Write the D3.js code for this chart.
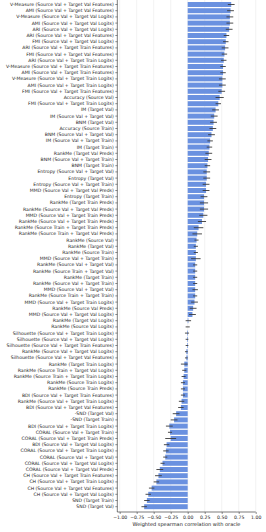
<!DOCTYPE html>
<html>
<head>
<meta charset="utf-8">
<script src="https://cdn.jsdelivr.net/npm/d3@7"></script>
<style>
  body { margin: 0; background: #fff; }
  svg { display: block; font-family: "DejaVu Sans", sans-serif; }
</style>
</head>
<body>
<div class="graphic"></div>
<script>
// validator names, top to bottom
var validators = [
    "V-Measure (Source Val + Target Val Features)",
    "AMI (Source Val + Target Val Features)",
    "V-Measure (Source Val + Target Val Logits)",
    "AMI (Source Val + Target Val Logits)",
    "ARI (Source Val + Target Val Logits)",
    "ARI (Source Val + Target Val Features)",
    "FMI (Source Val + Target Val Logits)",
    "ARI (Source Val + Target Train Features)",
    "FMI (Source Val + Target Val Features)",
    "ARI (Source Val + Target Train Logits)",
    "V-Measure (Source Val + Target Train Features)",
    "AMI (Source Val + Target Train Features)",
    "V-Measure (Source Val + Target Train Logits)",
    "AMI (Source Val + Target Train Logits)",
    "FMI (Source Val + Target Train Features)",
    "Accuracy (Source Val)",
    "FMI (Source Val + Target Train Logits)",
    "IM (Target Val)",
    "IM (Source Val + Target Val)",
    "BNM (Target Val)",
    "Accuracy (Source Train)",
    "BNM (Source Val + Target Val)",
    "IM (Source Val + Target Train)",
    "IM (Target Train)",
    "RankMe (Target Val Preds)",
    "BNM (Source Val + Target Train)",
    "BNM (Target Train)",
    "Entropy (Source Val + Target Val)",
    "Entropy (Target Val)",
    "Entropy (Source Val + Target Train)",
    "MMD (Source Val + Target Val Preds)",
    "Entropy (Target Train)",
    "RankMe (Target Train Preds)",
    "RankMe (Source Val + Target Val Preds)",
    "MMD (Source Val + Target Train Preds)",
    "RankMe (Source Val + Target Train Preds)",
    "RankMe (Source Train + Target Train Preds)",
    "RankMe (Source Train + Target Val Preds)",
    "RankMe (Source Val)",
    "RankMe (Target Val)",
    "RankMe (Source Train)",
    "MMD (Source Val + Target Train)",
    "RankMe (Source Val + Target Val)",
    "RankMe (Source Train + Target Val)",
    "RankMe (Target Train)",
    "RankMe (Source Val + Target Train)",
    "MMD (Source Val + Target Val)",
    "RankMe (Source Train + Target Train)",
    "MMD (Source Val + Target Train Logits)",
    "RankMe (Source Val Preds)",
    "MMD (Source Val + Target Val Logits)",
    "RankMe (Target Val Logits)",
    "RankMe (Source Val Logits)",
    "Silhouette (Source Val + Target Train Logits)",
    "Silhouette (Source Val + Target Val Logits)",
    "Silhouette (Source Val + Target Train Features)",
    "RankMe (Source Val + Target Val Logits)",
    "Silhouette (Source Val + Target Val Features)",
    "RankMe (Target Train Logits)",
    "RankMe (Source Train + Target Val Logits)",
    "RankMe (Source Train + Target Train Logits)",
    "RankMe (Source Train Logits)",
    "RankMe (Source Train Preds)",
    "BDI (Source Val + Target Train Features)",
    "RankMe (Source Val + Target Train Logits)",
    "BDI (Source Val + Target Val Features)",
    "-SND (Target Val)",
    "-SND (Target Train)",
    "BDI (Source Val + Target Train Logits)",
    "CORAL (Source Val + Target Train)",
    "CORAL (Source Val + Target Train Preds)",
    "BDI (Source Val + Target Val Logits)",
    "CORAL (Source Val + Target Train Logits)",
    "CORAL (Source Val + Target Val)",
    "CORAL (Source Val + Target Val Logits)",
    "CORAL (Source Val + Target Val Preds)",
    "CH (Source Val + Target Train Features)",
    "CH (Source Val + Target Train Logits)",
    "CH (Source Val + Target Val Features)",
    "CH (Source Val + Target Val Logits)",
    "SND (Target Train)",
    "SND (Target Val)"
]

// mean weighted spearman correlation
var means = [
    0.64, 0.63, 0.62, 0.62, 0.61, 0.57, 0.56, 0.55, 0.54, 0.53,
    0.52, 0.52, 0.51, 0.51, 0.50, 0.47, 0.45, 0.41, 0.39, 0.38,
    0.37, 0.35, 0.33, 0.32, 0.31, 0.30, 0.29, 0.28, 0.28, 0.27,
    0.27, 0.24, 0.24, 0.24, 0.23, 0.21, 0.16, 0.14, 0.13, 0.12,
    0.12, 0.12, 0.11, 0.11, 0.11, 0.11, 0.11, 0.11, 0.10, 0.08,
    0.07, 0.01, 0.00, -0.01, -0.01, -0.01, -0.02, -0.02, -0.05, -0.05,
    -0.06, -0.07, -0.07, -0.07, -0.09, -0.10, -0.17, -0.20, -0.27, -0.26,
    -0.25, -0.31, -0.32, -0.33, -0.37, -0.41, -0.43, -0.46, -0.53, -0.58,
    -0.60, -0.64
]

// confidence interval half widths
var errs = [
    0.05, 0.05, 0.05, 0.05, 0.05, 0.04, 0.04, 0.05, 0.04, 0.04,
    0.04, 0.04, 0.05, 0.05, 0.05, 0.06, 0.04, 0.05, 0.05, 0.05,
    0.05, 0.05, 0.04, 0.04, 0.05, 0.05, 0.04, 0.05, 0.05, 0.05,
    0.05, 0.05, 0.06, 0.06, 0.06, 0.06, 0.07, 0.07, 0.03, 0.03,
    0.03, 0.07, 0.03, 0.03, 0.03, 0.03, 0.04, 0.03, 0.05, 0.05,
    0.05, 0.04, 0.03, 0.03, 0.02, 0.02, 0.02, 0.02, 0.05, 0.03,
    0.03, 0.03, 0.03, 0.03, 0.04, 0.04, 0.05, 0.05, 0.05, 0.03,
    0.08, 0.04, 0.04, 0.03, 0.03, 0.05, 0.05, 0.04, 0.04, 0.04,
    0.04, 0.04
]

var xTicks = [-1, -0.75, -0.5, -0.25, 0, 0.25, 0.5, 0.75, 1]
var xTitle = "Weighted spearman correlation with oracle"

var width = 266
var height = 532
var plotLeft = 117.3, plotRight = 255.7
var plotTop = 1.4, plotBottom = 509.8, axisY = 512

var svg = d3.select('.graphic').append('svg')
    .attr('width', width)
    .attr('height', height)

var x = d3.scaleLinear().domain([-1.035, 1]).range([plotLeft, plotRight])
var y = d3.scaleBand().domain(validators)
    .range([plotTop, plotBottom])
    .paddingInner(0.2)
    .paddingOuter(0.1)

// vertical grid
svg.append('g')
    .selectAll('line')
    .data(xTicks)
    .join('line')
    .attr('x1', d => x(d)).attr('x2', d => x(d))
    .attr('y1', 0).attr('y2', axisY)
    .attr('stroke', '#ebebeb')
    .attr('stroke-width', 0.6)

var rows = validators.map((v, i) => ({ name: v, mean: means[i], err: errs[i] }))

svg.append('g')
    .selectAll('rect')
    .data(rows)
    .join('rect')
    .attr('x', d => x(Math.min(0, d.mean)))
    .attr('y', d => y(d.name))
    .attr('width', d => Math.abs(x(d.mean) - x(0)))
    .attr('height', y.bandwidth())
    .attr('fill', '#6a91e0')

svg.append('g')
    .selectAll('line')
    .data(rows)
    .join('line')
    .attr('x1', d => x(d.mean - d.err))
    .attr('x2', d => x(d.mean + d.err))
    .attr('y1', d => y(d.name) + y.bandwidth() / 2)
    .attr('y2', d => y(d.name) + y.bandwidth() / 2)
    .attr('stroke', '#3a3a3a')
    .attr('stroke-width', 0.9)

// y axis
var yAxis = svg.append('g')
    .attr('transform', 'translate(' + plotLeft + ',0)')
    .call(d3.axisLeft(y).tickSize(2).tickPadding(1.5))
yAxis.select('.domain').attr('d', 'M0,0V' + axisY).attr('stroke', '#222').attr('stroke-width', 0.6)
yAxis.selectAll('.tick line').attr('stroke', '#222').attr('stroke-width', 0.5)
yAxis.selectAll('text').attr('font-size', 4.6).attr('fill', '#222')
    .attr('font-family', '"DejaVu Sans", sans-serif')

// x axis
var xAxis = svg.append('g')
    .attr('transform', 'translate(0,' + axisY + ')')
    .call(d3.axisBottom(x).tickValues(xTicks).tickSize(2).tickPadding(1.5)
        .tickFormat(d => d3.format('.2f')(d).replace('-', '\u2212')))
xAxis.select('.domain').attr('d', 'M' + plotLeft + ',0H' + plotRight).attr('stroke', '#222').attr('stroke-width', 0.6)
xAxis.selectAll('.tick line').attr('stroke', '#222').attr('stroke-width', 0.5)
xAxis.selectAll('text').attr('font-size', 4.6).attr('fill', '#222')
    .attr('font-family', '"DejaVu Sans", sans-serif')

svg.append('text')
    .attr('x', (plotLeft + plotRight) / 2)
    .attr('y', 525.8)
    .attr('text-anchor', 'middle')
    .attr('font-size', 5)
    .attr('fill', '#222')
    .text(xTitle)
</script>
</body>
</html>
